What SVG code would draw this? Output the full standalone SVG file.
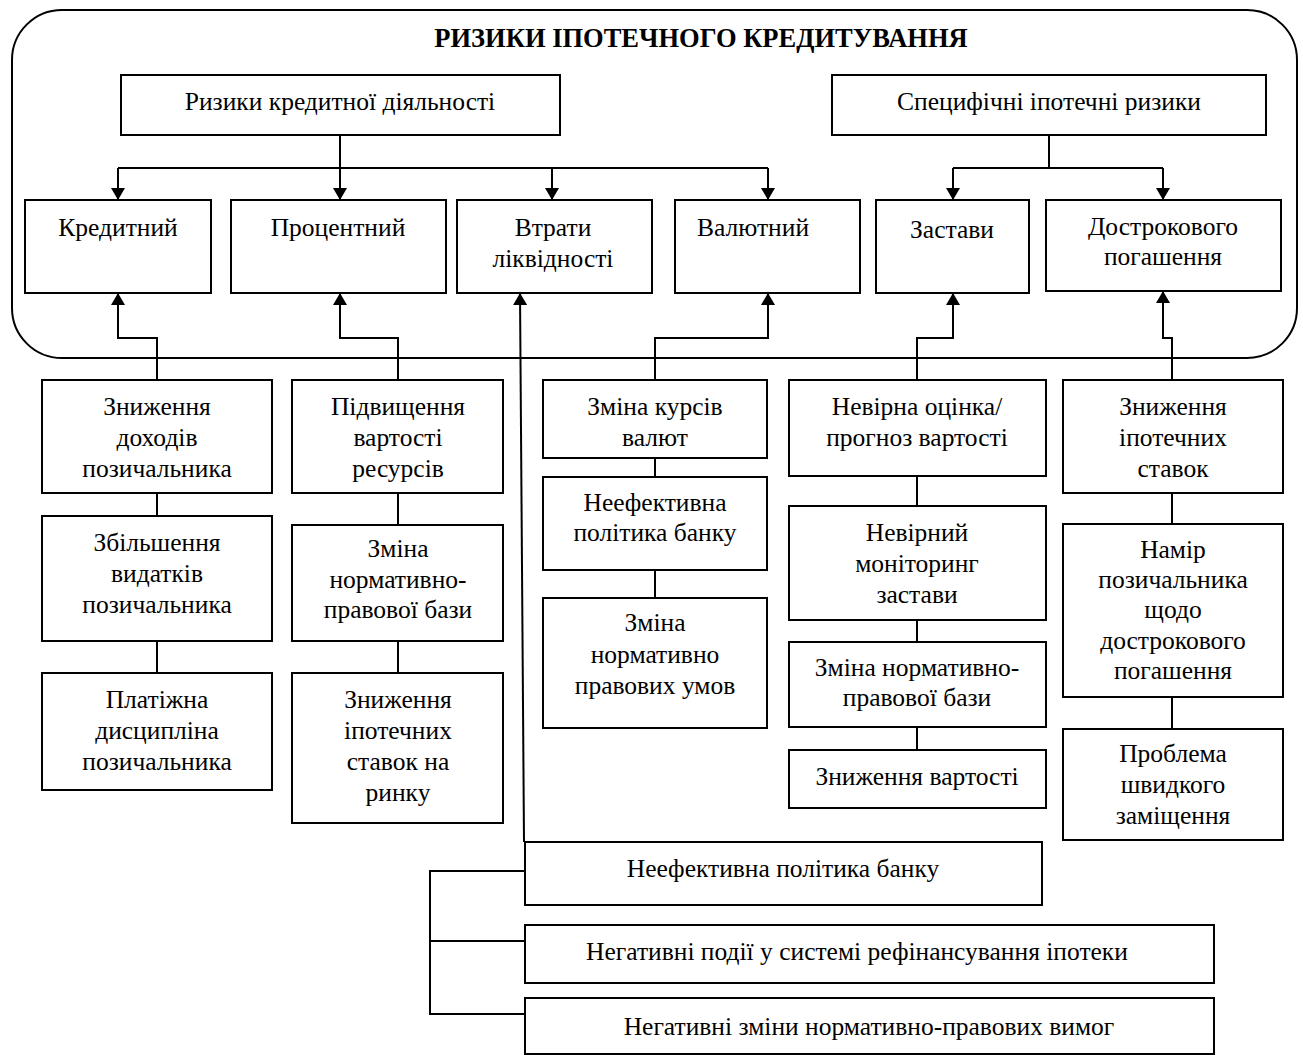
<svg xmlns="http://www.w3.org/2000/svg" width="1303" height="1055" viewBox="0 0 1303 1055">
<style>
  .box { fill: #fff; stroke: #000; stroke-width: 2; }
  .t { font-family: "Liberation Serif", "Times New Roman", serif; font-size: 25.5px; fill: #000; text-anchor: middle; }
  .title { font-family: "Liberation Serif", "Times New Roman", serif; font-size: 26.5px; font-weight: bold; fill: #000; text-anchor: middle; }
  .ln { fill: none; stroke: #000; stroke-width: 2; }
</style>
<defs>
  <marker id="ah" viewBox="0 0 12 14" refX="12" refY="7" markerWidth="12" markerHeight="14" markerUnits="userSpaceOnUse" orient="auto">
    <path d="M0,0 L12,7 L0,14 Z" fill="#000"/>
  </marker>
</defs>
<rect width="1303" height="1055" fill="#fff"/>

<g id="frame">
  <rect x="12" y="10" width="1285" height="348" rx="50" ry="50" fill="none" stroke="#000" stroke-width="2"/>
  <text class="title" x="701" y="47">РИЗИКИ ІПОТЕЧНОГО КРЕДИТУВАННЯ</text>
</g>

<g id="connectors">
  <path class="ln" d="M340,135 V168"/>
  <path class="ln" d="M118,168 H768"/>
  <path class="ln" d="M118,168 V200" marker-end="url(#ah)"/>
  <path class="ln" d="M340,168 V200" marker-end="url(#ah)"/>
  <path class="ln" d="M552,168 V200" marker-end="url(#ah)"/>
  <path class="ln" d="M768,168 V200" marker-end="url(#ah)"/>
  <path class="ln" d="M1049,135 V168"/>
  <path class="ln" d="M953,168 H1163"/>
  <path class="ln" d="M953,168 V200" marker-end="url(#ah)"/>
  <path class="ln" d="M1163,168 V200" marker-end="url(#ah)"/>
  <path class="ln" d="M157,380 V338 H118 V293" marker-end="url(#ah)"/>
  <path class="ln" d="M398,380 V338 H340 V293" marker-end="url(#ah)"/>
  <path class="ln" d="M524,842 L520,293" marker-end="url(#ah)"/>
  <path class="ln" d="M655,380 V338 H768 V293" marker-end="url(#ah)"/>
  <path class="ln" d="M917,380 V338 H953 V293" marker-end="url(#ah)"/>
  <path class="ln" d="M1172,380 V338 H1163 V291" marker-end="url(#ah)"/>
  <path class="ln" d="M157,493 V516 M157,641 V673"/>
  <path class="ln" d="M398,493 V525 M398,641 V673"/>
  <path class="ln" d="M655,458 V477 M655,570 V598"/>
  <path class="ln" d="M917,476 V506 M917,620 V642 M917,727 V750"/>
  <path class="ln" d="M1172,493 V524 M1172,697 V729"/>
  <path class="ln" d="M525,871 H430 V1014 H525 M430,941 H525"/>
</g>

<g id="n-kred-diyal"><rect class="box" x="121" y="75" width="439" height="60"/><text class="t" x="340" y="110">Ризики кредитної діяльності</text></g>
<g id="n-specif"><rect class="box" x="832" y="75" width="434" height="60"/><text class="t" x="1049" y="110">Специфічні іпотечні ризики</text></g>

<g id="n-kredytnyi"><rect class="box" x="25" y="200" width="186" height="93"/><text class="t" x="118" y="236">Кредитний</text></g>
<g id="n-protsentnyi"><rect class="box" x="231" y="200" width="215" height="93"/><text class="t" x="338" y="236">Процентний</text></g>
<g id="n-likvid"><rect class="box" x="457" y="200" width="195" height="93"/><text class="t" x="553" y="236">Втрати</text><text class="t" x="553" y="267">ліквідності</text></g>
<g id="n-valyut"><rect class="box" x="675" y="200" width="185" height="93"/><text class="t" x="753" y="236">Валютний</text></g>
<g id="n-zastavy"><rect class="box" x="876" y="200" width="153" height="93"/><text class="t" x="952" y="238">Застави</text></g>
<g id="n-dostrok"><rect class="box" x="1046" y="200" width="235" height="91"/><text class="t" x="1163" y="235">Дострокового</text><text class="t" x="1163" y="265">погашення</text></g>

<g id="n-c1a"><rect class="box" x="42" y="380" width="230" height="113"/><text class="t" x="157" y="415">Зниження</text><text class="t" x="157" y="446">доходів</text><text class="t" x="157" y="477">позичальника</text></g>
<g id="n-c1b"><rect class="box" x="42" y="516" width="230" height="125"/><text class="t" x="157" y="551">Збільшення</text><text class="t" x="157" y="582">видатків</text><text class="t" x="157" y="613">позичальника</text></g>
<g id="n-c1c"><rect class="box" x="42" y="673" width="230" height="117"/><text class="t" x="157" y="708">Платіжна</text><text class="t" x="157" y="739">дисципліна</text><text class="t" x="157" y="770">позичальника</text></g>

<g id="n-c2a"><rect class="box" x="292" y="380" width="211" height="113"/><text class="t" x="398" y="415">Підвищення</text><text class="t" x="398" y="446">вартості</text><text class="t" x="398" y="477">ресурсів</text></g>
<g id="n-c2b"><rect class="box" x="292" y="525" width="211" height="116"/><text class="t" x="398" y="557">Зміна</text><text class="t" x="398" y="588">нормативно-</text><text class="t" x="398" y="618">правової бази</text></g>
<g id="n-c2c"><rect class="box" x="292" y="673" width="211" height="150"/><text class="t" x="398" y="708">Зниження</text><text class="t" x="398" y="739">іпотечних</text><text class="t" x="398" y="770">ставок на</text><text class="t" x="398" y="801">ринку</text></g>

<g id="n-c3a"><rect class="box" x="543" y="380" width="224" height="78"/><text class="t" x="655" y="415">Зміна курсів</text><text class="t" x="655" y="446">валют</text></g>
<g id="n-c3b"><rect class="box" x="543" y="477" width="224" height="93"/><text class="t" x="655" y="511">Неефективна</text><text class="t" x="655" y="541">політика банку</text></g>
<g id="n-c3c"><rect class="box" x="543" y="598" width="224" height="130"/><text class="t" x="655" y="631">Зміна</text><text class="t" x="655" y="663">нормативно</text><text class="t" x="655" y="694">правових умов</text></g>

<g id="n-c4a"><rect class="box" x="789" y="380" width="257" height="96"/><text class="t" x="917" y="415">Невірна оцінка/</text><text class="t" x="917" y="446">прогноз вартості</text></g>
<g id="n-c4b"><rect class="box" x="789" y="506" width="257" height="114"/><text class="t" x="917" y="541">Невірний</text><text class="t" x="917" y="572">моніторинг</text><text class="t" x="917" y="603">застави</text></g>
<g id="n-c4c"><rect class="box" x="789" y="642" width="257" height="85"/><text class="t" x="917" y="676">Зміна нормативно-</text><text class="t" x="917" y="706">правової бази</text></g>
<g id="n-c4d"><rect class="box" x="789" y="750" width="257" height="58"/><text class="t" x="917" y="785">Зниження вартості</text></g>

<g id="n-c5a"><rect class="box" x="1063" y="380" width="220" height="113"/><text class="t" x="1173" y="415">Зниження</text><text class="t" x="1173" y="446">іпотечних</text><text class="t" x="1173" y="477">ставок</text></g>
<g id="n-c5b"><rect class="box" x="1063" y="524" width="220" height="173"/><text class="t" x="1173" y="558">Намір</text><text class="t" x="1173" y="588">позичальника</text><text class="t" x="1173" y="618">щодо</text><text class="t" x="1173" y="649">дострокового</text><text class="t" x="1173" y="679">погашення</text></g>
<g id="n-c5c"><rect class="box" x="1063" y="729" width="220" height="111"/><text class="t" x="1173" y="762">Проблема</text><text class="t" x="1173" y="793">швидкого</text><text class="t" x="1173" y="824">заміщення</text></g>

<g id="n-b1"><rect class="box" x="525" y="842" width="517" height="63"/><text class="t" x="783" y="877">Неефективна політика банку</text></g>
<g id="n-b2"><rect class="box" x="525" y="925" width="689" height="58"/><text class="t" x="857" y="960">Негативні події у системі рефінансування іпотеки</text></g>
<g id="n-b3"><rect class="box" x="525" y="998" width="689" height="56"/><text class="t" x="869" y="1035">Негативні зміни нормативно-правових вимог</text></g>
</svg>
